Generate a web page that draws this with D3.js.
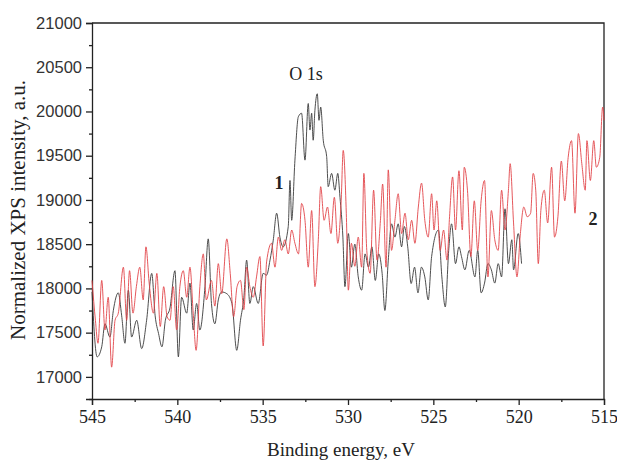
<!DOCTYPE html>
<html>
<head>
<meta charset="utf-8">
<script src="https://cdn.jsdelivr.net/npm/d3@7"></script>
<style>
  body { margin: 0; background: #fff; }
</style>
</head>
<body>
<script>
// Spectrum 1 (black): binding energy, eV and intensity, a.u.
var blackEnergy = [545.0,544.7,544.43,544.24,543.95,543.75,543.46,543.26,543.07,542.87,542.68,542.38,542.09,541.8,541.5,541.3,541.1,540.9,540.7,540.43,540.14,539.94,539.75,539.45,539.26,539.07,538.87,538.68,538.38,538.19,538.0,537.8,537.6,537.4,537.1,536.8,536.52,536.3,536.1,535.94,535.75,535.55,535.26,534.97,534.77,534.57,534.38,534.18,533.99,533.8,533.5,533.4,533.3,533.11,532.91,532.72,532.52,532.33,532.23,532.13,532.04,531.94,531.8,531.7,531.6,531.45,531.25,531.16,530.96,530.77,530.6,530.47,530.3,530.18,529.98,529.8,529.6,529.4,529.2,529.0,528.8,528.6,528.4,528.2,528.0,527.84,527.64,527.45,527.25,527.06,526.86,526.7,526.5,526.3,526.1,525.9,525.7,525.5,525.3,525.1,524.7,524.5,524.3,524.1,523.93,523.7,523.5,523.35,523.15,522.9,522.56,522.4,522.2,522.0,521.8,521.6,521.4,521.2,521.0,520.8,520.6,520.4,520.3,520.03,519.83];
var blackIntensity = [17960,17226,17340,17600,17450,17750,17950,17690,17380,17980,17450,17640,17320,17640,18170,17690,17490,17340,17640,17780,18200,17226,17900,17720,18060,17530,17830,17530,18020,18560,17830,17600,17870,17960,17940,17830,17300,17640,17900,18320,17830,18020,17830,18170,18150,18320,18545,18850,18580,18470,18700,19220,18770,19450,19940,19980,19450,20090,19790,19980,19675,20010,20200,19900,20050,19675,19490,19150,19300,19110,19300,19030,18580,18020,18620,18240,18500,18130,17980,18390,18240,18470,18090,18390,18170,17750,18320,18730,18580,18730,18470,18700,18470,18055,18240,17950,18240,18130,17870,18360,18660,18130,17790,18430,18730,18280,18470,18360,18210,18430,18130,18430,17950,18060,18280,18210,18060,18280,18130,18900,18280,18550,18210,18620,18280];

// Spectrum 2 (red)
var redEnergy = [545.0,544.8,544.65,544.43,544.24,544.05,543.85,543.65,543.46,543.16,542.97,542.8,542.6,542.4,542.2,542.0,541.84,541.65,541.4,541.2,541.0,540.8,540.6,540.43,540.24,540.04,539.85,539.65,539.45,539.26,539.07,538.9,538.68,538.48,538.3,538.0,537.8,537.6,537.4,537.1,536.9,536.7,536.5,536.3,536.1,535.94,535.75,535.55,535.36,535.16,534.97,534.77,534.48,534.28,534.08,533.89,533.7,533.5,533.3,533.11,532.9,532.72,532.52,532.33,532.13,531.94,531.74,531.6,531.4,531.2,531.0,530.8,530.6,530.4,530.28,530.1,529.98,529.8,529.6,529.4,529.2,529.07,528.9,528.7,528.5,528.3,528.1,527.97,527.77,527.64,527.45,527.25,527.06,526.86,526.66,526.47,526.27,526.08,525.88,525.69,525.5,525.3,525.1,524.96,524.8,524.6,524.4,524.2,524.05,523.87,523.7,523.5,523.3,523.19,523.0,522.8,522.6,522.4,522.2,522.0,521.8,521.6,521.4,521.2,521.0,520.8,520.6,520.5,520.3,520.1,519.9,519.7,519.5,519.3,519.15,519.0,518.85,518.7,518.5,518.3,518.07,517.9,517.7,517.5,517.3,517.1,516.9,516.7,516.5,516.3,516.1,516.0,515.8,515.6,515.45,515.25,515.08,515.0];
var redIntensity = [18090,17640,17380,18090,17530,17900,17110,17640,17720,18240,17640,18200,17720,18020,18240,17870,18470,18060,17720,18170,17570,18020,17680,17640,18020,17530,18020,18200,17900,18240,17720,17300,18020,18390,17870,18090,17800,18280,17940,18560,18170,17680,18020,18090,17760,18240,18020,17900,18130,18360,17350,18300,18510,18240,18580,18430,18550,18390,18660,18510,18390,18960,18770,18240,18880,18020,18550,19150,18770,18920,18620,19030,18510,18990,19560,18850,17980,18510,18250,18580,18240,19300,18430,18170,19110,18320,18770,19180,18240,19340,18430,18770,19070,18620,18850,18550,18770,18510,18920,19190,18770,18580,19070,18660,18990,18430,18660,18320,18810,19260,18660,19330,18660,19370,19110,18360,18990,18430,18990,19220,18130,18880,18550,18430,19110,18660,19110,19410,18740,18130,18620,18920,18810,18850,19300,19110,18280,18880,19110,18740,19370,18580,18810,19440,18990,19480,19670,18850,19750,19410,19110,19670,19220,19670,19370,19480,20050,19900];

// Axis ticks
var xTicks = [545, 540, 535, 530, 525, 520, 515];
var yTicks = [17000, 17500, 18000, 18500, 19000, 19500, 20000, 20500, 21000];

var width = 617;
var height = 463;
var plotLeft = 92, plotRight = 604, plotTop = 23, plotBottom = 399;

var svg = d3.select("body")
  .append("svg")
  .attr("width", width)
  .attr("height", height);

// binding energy axis runs backwards
var x = d3.scaleLinear().domain([545, 515]).range([plotLeft, plotRight]);
var y = d3.scaleLinear().domain([16750, 21000]).range([plotBottom, plotTop]);

var serif = "'Liberation Serif', 'Times New Roman', serif";
var sans = "'Liberation Sans', Arial, sans-serif";

// frame (top and right)
svg.append("path")
  .attr("d", "M" + plotLeft + "," + plotTop + "H" + plotRight + "V" + plotBottom)
  .attr("fill", "none")
  .attr("stroke", "#222")
  .attr("stroke-width", 1.3);

// bottom axis: major and minor ticks
var xAxis = svg.append("g")
  .attr("transform", "translate(0," + plotBottom + ")")
  .call(d3.axisBottom(x).tickValues(xTicks).tickSize(6).tickPadding(5).tickFormat(d3.format("d")));
svg.append("g")
  .attr("transform", "translate(0," + plotBottom + ")")
  .call(d3.axisBottom(x).tickValues(d3.range(542.5, 515, -5)).tickSize(3).tickFormat(""))
  .select(".domain").remove();

xAxis.selectAll("text")
  .style("font-family", serif)
  .style("font-size", "18px")
  .attr("fill", "#222");

// left axis
var yAxis = svg.append("g")
  .attr("transform", "translate(" + plotLeft + ",0)")
  .call(d3.axisLeft(y).tickValues(yTicks).tickSize(6).tickPadding(4).tickFormat(d3.format("d")));
svg.append("g")
  .attr("transform", "translate(" + plotLeft + ",0)")
  .call(d3.axisLeft(y).tickValues(d3.range(16750, 21000, 500)).tickSize(3).tickFormat(""))
  .select(".domain").remove();

yAxis.selectAll("text")
  .style("font-family", sans)
  .style("font-size", "16.5px")
  .attr("fill", "#333");

svg.selectAll(".domain, .tick line")
  .attr("stroke", "#222")
  .attr("stroke-width", 1.3);

// the two spectra
var line = d3.line()
  .x(function(d) { return x(d[0]); })
  .y(function(d) { return y(d[1]); })
  .curve(d3.curveMonotoneX);

svg.append("path")
  .datum(d3.zip(blackEnergy, blackIntensity))
  .attr("d", line)
  .attr("fill", "none")
  .attr("stroke", "#3a3a3a")
  .attr("stroke-width", 0.9);

svg.append("path")
  .datum(d3.zip(redEnergy, redIntensity))
  .attr("d", line)
  .attr("fill", "none")
  .attr("stroke", "#e2454a")
  .attr("stroke-width", 0.9);

// labels
svg.append("text")
  .attr("x", 306).attr("y", 80)
  .attr("text-anchor", "middle")
  .style("font-family", serif).style("font-size", "18px")
  .attr("fill", "#222")
  .text("O 1s");

svg.append("text")
  .attr("x", 279).attr("y", 189)
  .attr("text-anchor", "middle")
  .style("font-family", serif).style("font-size", "18px").style("font-weight", "bold")
  .attr("fill", "#222")
  .text("1");

svg.append("text")
  .attr("x", 593).attr("y", 225)
  .attr("text-anchor", "middle")
  .style("font-family", serif).style("font-size", "18px").style("font-weight", "bold")
  .attr("fill", "#222")
  .text("2");

// axis titles
svg.append("text")
  .attr("x", 341).attr("y", 456)
  .attr("text-anchor", "middle")
  .style("font-family", serif).style("font-size", "19px")
  .attr("fill", "#222")
  .text("Binding energy, eV");

svg.append("text")
  .attr("transform", "translate(25,210) rotate(-90)")
  .attr("text-anchor", "middle")
  .style("font-family", serif).style("font-size", "21px")
  .attr("fill", "#222")
  .text("Normalized XPS intensity, a.u.");
</script>
</body>
</html>
